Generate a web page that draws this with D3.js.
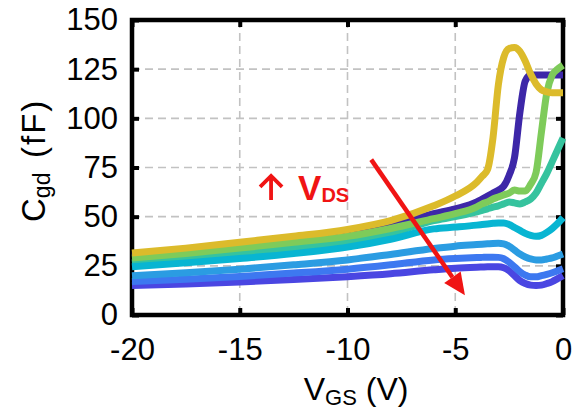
<!DOCTYPE html>
<html>
<head>
<meta charset="utf-8">
<script src="https://cdn.jsdelivr.net/npm/d3@7"></script>
<style>
  body { margin: 0; background: #fff; }
  text { font-family: "Liberation Sans", Arial, sans-serif; }
</style>
</head>
<body>
<div id="chart"></div>
<script>
// VGS sweep (V) shared by every curve
const vgs = [-20,-17.5,-15,-12.5,-10,-8,-6,-5,-4,-3.75,-3.5,-3.25,-3,-2.75,-2.5,-2.25,-2,-1.75,-1.5,-1.25,-1,-0.75,-0.5,-0.25,0];

// Cgd (fF), one array per VDS curve
const cgdViolet = [15,15.8,16.8,18,19.5,21,23,23.8,24.3,24.4,24.5,24.5,24.5,24,22.5,20,17.5,16,15.2,15,15.2,16,17,18.5,20];
const cgdBlue = [17,18.2,19.6,21.3,23.3,25.5,28,28.7,29.2,29.3,29.4,29.4,29.3,28.6,26.8,24.5,22,20.3,19.4,19.4,20,20.7,21.5,22.5,23.5];
const cgdLightBlue = [20,21.5,23.3,25.5,28,30.8,33.8,35,35.8,36,36.2,36.4,36.5,36.2,35,33,31,29.5,28.5,28,28,28.5,29,30,31];
const cgdIndigo = [30,32.5,35,38,41.5,45.5,51.5,54,57.5,59,60.5,62,63.5,65.5,71,80,103,119,122,122,122,122,122,122,122];
const cgdTeal = [26.5,28.8,31.3,34.2,37.5,41.5,48,50,52.5,53.2,54,54.8,55.5,56.5,57.5,57,56.5,57.5,59,62,67,72,78,84,90];
const cgdCyan = [24.5,26.5,28.7,31.2,34.5,38.5,43.8,44.7,45.7,46,46.3,46.6,46.8,46.8,46,44.5,43,41.5,40.5,40,40.5,42,44,46.5,49.5];
const cgdGreen = [29,31.3,34,37,40,44,49,51.5,55,56.5,57.5,59,60,61,62,63.5,63,63,66.5,72.5,93,113,122,125,127];
const cgdYellow = [31.5,34,37,40,43.5,48,55.5,60.5,67.5,70.5,74,90,117,131,135.5,136,134,129,122.5,117.5,114.5,113.5,113,113,113];

// drawing order, bottom to top
const curves = [cgdViolet, cgdBlue, cgdLightBlue, cgdIndigo, cgdTeal, cgdCyan, cgdGreen, cgdYellow];
const curveColors = ["#4a46e2","#3d78f0","#2b9ce2","#3d27a8","#36c39e","#08b5d2","#7ecb5a","#dcbb2b"];

const xTicks = [-20,-15,-10,-5,0];
const yTicks = [0,25,50,75,100,125,150];

// red annotation arrow, data coords
const arrowFrom = [-8.9, 79];
const arrowTo = [-4.55, 10];

const W = 577, H = 414;
const pl = 132, pr = 563, pt = 20, pb = 315;

const svg = d3.select("#chart").append("svg")
  .attr("width", W).attr("height", H);

const x = d3.scaleLinear().domain([-20, 0]).range([pl, pr]);
const y = d3.scaleLinear().domain([0, 150]).range([pb, pt]);

// dashed grid
const grid = svg.append("g");
grid.selectAll(".gx").data(xTicks.slice(1, -1)).enter().append("line")
  .attr("x1", d => x(d)).attr("x2", d => x(d))
  .attr("y1", pt).attr("y2", pb)
  .attr("stroke", "#c2c2c2").attr("stroke-width", 1.6)
  .attr("stroke-dasharray", "8,5");
grid.selectAll(".gy").data(yTicks.slice(1, -1)).enter().append("line")
  .attr("x1", pl).attr("x2", pr)
  .attr("y1", d => y(d)).attr("y2", d => y(d))
  .attr("stroke", "#c2c2c2").attr("stroke-width", 1.6)
  .attr("stroke-dasharray", "8,5");

// axes, ticks pointing inward, plain hyphen for minus
const fmt = d => String(d);
const ax = svg.append("g").attr("transform", `translate(0,${pb})`)
  .call(d3.axisBottom(x).tickValues(xTicks).tickFormat(fmt).tickSizeInner(-7).tickSizeOuter(0).tickPadding(23));
const axT = svg.append("g").attr("transform", `translate(0,${pt})`)
  .call(d3.axisTop(x).tickValues(xTicks).tickSizeInner(-7).tickSizeOuter(0).tickFormat(""));
const ay = svg.append("g").attr("transform", `translate(${pl},0)`)
  .call(d3.axisLeft(y).tickValues(yTicks).tickFormat(fmt).tickSizeInner(-7).tickSizeOuter(0).tickPadding(14));
const ayR = svg.append("g").attr("transform", `translate(${pr},0)`)
  .call(d3.axisRight(y).tickValues(yTicks).tickSizeInner(-7).tickSizeOuter(0).tickFormat(""));

[ax, axT, ay, ayR].forEach(g => {
  g.select(".domain").remove();
  g.selectAll(".tick line").attr("stroke", "#000").attr("stroke-width", 4);
  g.selectAll(".tick text").attr("font-size", 31).attr("fill", "#000")
    .style("font-family", "Liberation Sans, Arial, sans-serif");
});

svg.append("rect")
  .attr("x", pl).attr("y", pt)
  .attr("width", pr - pl).attr("height", pb - pt)
  .attr("fill", "none").attr("stroke", "#000").attr("stroke-width", 4.5);

// curves
const line = d3.line()
  .x((d, i) => x(vgs[i]))
  .y(d => y(d))
  .curve(d3.curveMonotoneX);

svg.append("g").selectAll("path").data(curves).enter().append("path")
  .attr("d", d => line(d))
  .attr("fill", "none")
  .attr("stroke", (d, i) => curveColors[i])
  .attr("stroke-width", 7)
  .attr("stroke-linejoin", "round");

// annotation arrow
const red = "#f01414";
const x1 = x(arrowFrom[0]), y1 = y(arrowFrom[1]);
const x2 = x(arrowTo[0]), y2 = y(arrowTo[1]);
const ang = Math.atan2(y2 - y1, x2 - x1);
const headLen = 22, headHalf = 10;
const bx = x2 - headLen * Math.cos(ang), by = y2 - headLen * Math.sin(ang);
svg.append("line")
  .attr("x1", x1).attr("y1", y1).attr("x2", bx).attr("y2", by)
  .attr("stroke", red).attr("stroke-width", 4.5);
svg.append("path")
  .attr("d", `M${x2},${y2} L${bx + headHalf * Math.sin(ang)},${by - headHalf * Math.cos(ang)} L${bx - headHalf * Math.sin(ang)},${by + headHalf * Math.cos(ang)} Z`)
  .attr("fill", red);

// "↑ VDS" label: small up arrow then bold text
const nx = x(-14.15), ny = y(58.5);
svg.append("path")
  .attr("d", `M${nx + 13},${ny} V${ny - 23} M${nx + 2},${ny - 13} L${nx + 13},${ny - 24} L${nx + 24},${ny - 13}`)
  .attr("fill", "none").attr("stroke", red).attr("stroke-width", 3.8)
  .attr("stroke-linejoin", "miter");
const note = svg.append("text")
  .attr("x", nx + 40).attr("y", ny)
  .attr("fill", red).attr("font-weight", "bold");
note.append("tspan").attr("font-size", 35).text("V");
note.append("tspan").attr("font-size", 20).attr("dy", 2).text("DS");

// axis titles
const xt = svg.append("text")
  .attr("x", x(-9.6)).attr("y", 400)
  .attr("text-anchor", "middle").attr("font-size", 32);
xt.append("tspan").text("V");
xt.append("tspan").attr("font-size", 22).attr("dy", 5).text("GS");
xt.append("tspan").attr("dy", -5).text(" (V)");

const yt = svg.append("text")
  .attr("transform", "translate(45,222) rotate(-90)")
  .attr("font-size", 33);
yt.append("tspan").text("C");
yt.append("tspan").attr("font-size", 23).attr("dy", 5).text("gd");
yt.append("tspan").attr("x", 64).attr("dy", -5).attr("letter-spacing", 2).text("(fF)");
</script>
</body>
</html>
